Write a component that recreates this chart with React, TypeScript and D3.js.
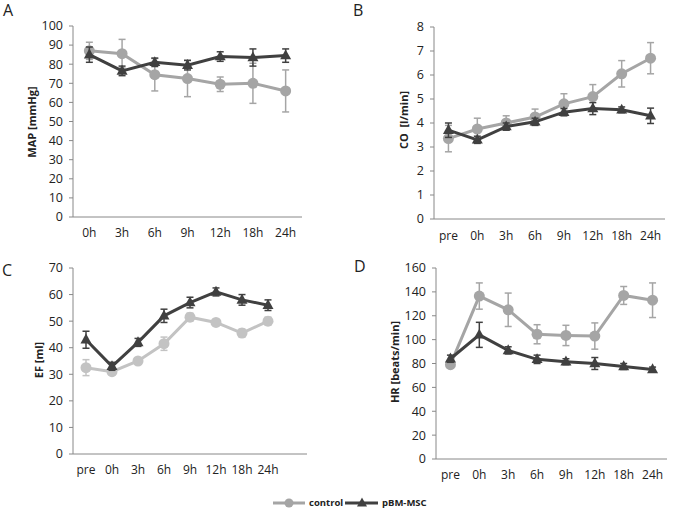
import React from 'react';
import * as d3 from 'd3';

const catsA = ['0h', '3h', '6h', '9h', '12h', '18h', '24h'];
const catsFull = ['pre', '0h', '3h', '6h', '9h', '12h', '18h', '24h'];

const mapControl = [87, 85.5, 74.5, 72.5, 69.5, 70, 66];
const mapControlErr = [4.5, 7.5, 8.5, 9.5, 3.8, 10.5, 11];
const mapMsc = [85, 76.5, 81, 79.5, 84, 83.5, 84.5];
const mapMscErr = [4, 2.5, 2.2, 2.5, 2.5, 4.5, 3.5];

const coControl = [3.35, 3.75, 4.0, 4.25, 4.8, 5.1, 6.05, 6.7];
const coControlErr = [0.55, 0.45, 0.3, 0.33, 0.42, 0.5, 0.55, 0.65];
const coMsc = [3.7, 3.3, 3.85, 4.05, 4.45, 4.6, 4.55, 4.3];
const coMscErr = [0.3, 0.15, 0.15, 0.15, 0.15, 0.25, 0.12, 0.32];

const efControl = [32.5, 31, 35, 41.5, 51.5, 49.5, 45.5, 50];
const efControlErr = [3, 1, 1, 2.5, 1.5, 1, 1.5, 1.5];
const efMsc = [43, 33, 42, 52, 57, 61, 58, 56];
const efMscErr = [3.2, 1.5, 1.5, 2.5, 2, 1.5, 2, 2];

const hrControl = [79, 136.5, 125, 104.5, 103.5, 103, 137, 133];
const hrControlErr = [2, 11, 14, 8, 8.5, 11, 7.5, 14.5];
const hrMsc = [84, 104, 91, 83.5, 81.5, 80, 77.5, 75];
const hrMscErr = [3, 10.5, 3, 3.5, 2.5, 5, 2.5, 2];

const seriesNames = ['control', 'pBM-MSC'];

const FONT = "'Open Sans', 'Noto Sans', sans-serif";
const AXIS = '#888888';
const TEXT = '#222222';
const DARK = '#404040';
const GRAY = '#a5a5a5';
const LIGHT = '#c3c3c3';

type PanelProps = {
  letter: string;
  letterX: number;
  letterY: number;
  ylabel: string;
  ylabelX: number;
  ylabelY: number;
  cats: string[];
  slots: number;
  x0: number;
  x1: number;
  yTop: number;
  yBottom: number;
  yMax: number;
  yStep: number;
  control: number[];
  controlErr: number[];
  msc: number[];
  mscErr: number[];
  controlColor: string;
  labelOffset: number;
};

function triPath(cx: number, cy: number, s: number) {
  const h = s * 0.9;
  return `M${cx},${cy - h * 0.62}L${cx + s / 2},${cy + h * 0.38}L${cx - s / 2},${cy + h * 0.38}Z`;
}

function Panel(p: PanelProps) {
  const slotDomain = d3.range(p.slots).map(String);
  const xb = d3.scaleBand().domain(slotDomain).range([p.x0, p.x1]);
  const xc = (i: number) => (xb(String(i)) as number) + xb.bandwidth() / 2;
  const y = d3.scaleLinear().domain([0, p.yMax]).range([p.yBottom, p.yTop]);
  const ticks = d3.range(0, p.yMax + p.yStep / 2, p.yStep);
  const line = d3
    .line<number>()
    .x((_, i) => xc(i))
    .y((d) => y(d));

  const errBars = (vals: number[], errs: number[], color: string) =>
    vals.map((v, i) => {
      const cx = xc(i);
      const top = y(v + errs[i]);
      const bot = y(v - errs[i]);
      return (
        <g key={i} stroke={color} strokeWidth={1.5}>
          <line x1={cx} x2={cx} y1={top} y2={bot} />
          <line x1={cx - 3.5} x2={cx + 3.5} y1={top} y2={top} />
          <line x1={cx - 3.5} x2={cx + 3.5} y1={bot} y2={bot} />
        </g>
      );
    });

  return (
    <g>
      <text x={p.letterX} y={p.letterY} fontSize={16} fill={TEXT} fontFamily={FONT}>
        {p.letter}
      </text>
      <line x1={p.x0} x2={p.x0} y1={p.yTop} y2={p.yBottom} stroke={AXIS} strokeWidth={1} />
      <line x1={p.x0} x2={p.x1} y1={p.yBottom} y2={p.yBottom} stroke={AXIS} strokeWidth={1} />
      {ticks.map((t) => (
        <g key={t}>
          <line x1={p.x0 - 4} x2={p.x0} y1={y(t)} y2={y(t)} stroke={AXIS} />
          <text
            x={p.x0 - 10}
            y={y(t)}
            dy="0.35em"
            textAnchor="end"
            fontSize={12.5}
            fill={TEXT}
            fontFamily={FONT}
          >
            {t}
          </text>
        </g>
      ))}
      {p.cats.map((c, i) => (
        <text
          key={c}
          x={xc(i)}
          y={p.yBottom + p.labelOffset}
          textAnchor="middle"
          fontSize={12}
          fill={TEXT}
          fontFamily={FONT}
        >
          {c}
        </text>
      ))}
      <text
        transform={`translate(${p.ylabelX},${p.ylabelY}) rotate(-90)`}
        textAnchor="middle"
        dy="0.35em"
        fontSize={11}
        fontWeight="bold"
        fill={TEXT}
        fontFamily={FONT}
        style={{ whiteSpace: 'pre' }}
      >
        {p.ylabel}
      </text>
      {errBars(p.control, p.controlErr, p.controlColor)}
      <path d={line(p.control) || ''} fill="none" stroke={p.controlColor} strokeWidth={3} />
      {p.control.map((v, i) => (
        <circle key={i} cx={xc(i)} cy={y(v)} r={5.5} fill={p.controlColor} />
      ))}
      {errBars(p.msc, p.mscErr, DARK)}
      <path d={line(p.msc) || ''} fill="none" stroke={DARK} strokeWidth={3} />
      {p.msc.map((v, i) => (
        <path key={i} d={triPath(xc(i), y(v), 11)} fill={DARK} />
      ))}
    </g>
  );
}

export default function App() {
  return (
    <svg
      width={675}
      height={511}
      style={{ position: 'absolute', left: 0, top: 0, background: '#fff' }}
    >
      <rect width={675} height={511} fill="#fff" />
      <Panel
        letter="A"
        letterX={3}
        letterY={16}
        ylabel="MAP [mmHg]"
        ylabelX={32}
        ylabelY={122}
        cats={catsA}
        slots={7}
        x0={73}
        x1={302}
        yTop={26}
        yBottom={217}
        yMax={100}
        yStep={10}
        control={mapControl}
        controlErr={mapControlErr}
        msc={mapMsc}
        mscErr={mapMscErr}
        controlColor={GRAY}
        labelOffset={20}
      />
      <Panel
        letter="B"
        letterX={353}
        letterY={16}
        ylabel={'CO\u00a0\u00a0[l/min]'}
        ylabelX={404}
        ylabelY={120}
        cats={catsFull}
        slots={8}
        x0={434}
        x1={665}
        yTop={27}
        yBottom={219}
        yMax={8}
        yStep={1}
        control={coControl}
        controlErr={coControlErr}
        msc={coMsc}
        mscErr={coMscErr}
        controlColor={GRAY}
        labelOffset={21}
      />
      <Panel
        letter="C"
        letterX={2}
        letterY={276}
        ylabel="EF [ml]"
        ylabelX={39}
        ylabelY={360}
        cats={catsFull}
        slots={9}
        x0={73}
        x1={307}
        yTop={268}
        yBottom={454}
        yMax={70}
        yStep={10}
        control={efControl}
        controlErr={efControlErr}
        msc={efMsc}
        mscErr={efMscErr}
        controlColor={LIGHT}
        labelOffset={20}
      />
      <Panel
        letter="D"
        letterX={354}
        letterY={272}
        ylabel="HR [beats/min]"
        ylabelX={395}
        ylabelY={362}
        cats={catsFull}
        slots={8}
        x0={436}
        x1={667}
        yTop={268}
        yBottom={459}
        yMax={160}
        yStep={20}
        control={hrControl}
        controlErr={hrControlErr}
        msc={hrMsc}
        mscErr={hrMscErr}
        controlColor={GRAY}
        labelOffset={20}
      />
      <g fontFamily={FONT} fontSize={9.5} fontWeight="bold" fill={TEXT}>
        <line x1={273} x2={305} y1={503} y2={503} stroke={GRAY} strokeWidth={3} />
        <circle cx={289} cy={503} r={4.5} fill={GRAY} />
        <text x={309} y={503} dy="0.35em">
          {seriesNames[0]}
        </text>
        <line x1={345} x2={378} y1={503} y2={503} stroke={DARK} strokeWidth={3} />
        <path d={triPath(362, 503, 10)} fill={DARK} />
        <text x={382} y={503} dy="0.35em">
          {seriesNames[1]}
        </text>
      </g>
    </svg>
  );
}
